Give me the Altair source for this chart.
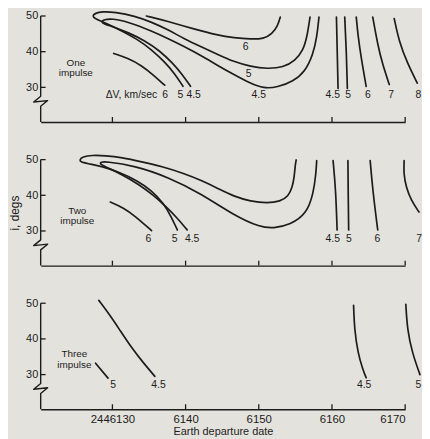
import altair as alt
import pandas as pd

FONT = "Liberation Sans"
INK = "#1c1c1c"
BG = "#e4e2dd"

# ---- axes -------------------------------------------------------------
X_MIN, X_MAX = 6120.2, 6170
Y_MIN, Y_MAX = 20.3, 50
W, H = 368, 107

x_ticks = [6130, 6140, 6150, 6160, 6170]
x_tick_labels = ["2446130", "6140", "6150", "6160", "6170"]
y_ticks = [30, 40, 50]

# y-axis line with its break (zig-zag)
axis_dates = [6120.2, 6120.2, 6119.25, 6121.15, 6120.2, 6120.2]
axis_degs = [50, 27.5, 25.9, 26.3, 24.7, 20.3]

# ---- panel 1: one impulse ---------------------------------------------
p1_a6_date = [6130.17, 6132.20, 6134.00, 6135.58, 6137.15]
p1_a6_deg = [39.5, 38.1, 36.1, 33.5, 30.6]
p1_b6_date = [6134.64, 6137.61, 6141.21, 6144.38, 6146.62, 6148.88, 6150.68, 6151.82, 6152.58, 6152.94]
p1_b6_deg = [50.0, 48.5, 46.3, 44.6, 43.9, 43.5, 43.6, 45.0, 47.2, 49.7]
p1_c5_date = [6139.64, 6138.51, 6137.11, 6135.35, 6133.32, 6131.02, 6128.99, 6127.64, 6127.24, 6127.64,
              6128.59, 6130.35, 6133.05, 6135.35, 6137.65, 6139.82, 6142.12, 6144.42, 6146.58, 6148.88,
              6151.18, 6153.35, 6154.97, 6156.05, 6156.60, 6157.00]
p1_c5_deg = [30.3, 33.9, 37.2, 40.6, 43.6, 46.1, 48.1, 49.2, 50.0, 50.8,
             51.25, 51.1, 50.0, 48.3, 46.1, 43.6, 41.4, 39.2, 37.2, 35.8,
             35.2, 35.6, 37.5, 40.3, 44.2, 49.7]
p1_d45_date = [6140.67, 6139.55, 6138.19, 6136.44, 6134.41, 6132.24, 6130.21, 6128.86, 6128.45, 6128.86,
               6129.94, 6132.24, 6135.35, 6137.65, 6139.82, 6142.12, 6144.42, 6146.58, 6148.88, 6150.64,
               6152.54, 6154.70, 6156.32, 6157.41, 6157.95, 6158.22]
p1_d45_deg = [30.3, 33.6, 36.9, 40.3, 43.1, 45.3, 46.9, 47.8, 48.3, 49.0,
              49.3, 48.3, 45.8, 43.6, 41.4, 38.9, 36.1, 33.6, 31.1, 29.7,
              30.0, 31.7, 34.4, 39.2, 44.2, 49.7]
p1_r45_date = [6160.61, 6160.72, 6160.83]
p1_r45_deg = [49.7, 40.0, 29.7]
p1_r5_date = [6161.74, 6161.97, 6162.10]
p1_r5_deg = [49.7, 40.0, 29.7]
p1_r6_date = [6163.32, 6163.55, 6164.00, 6164.67]
p1_r6_deg = [49.7, 44.6, 38.1, 30.3]
p1_r7_date = [6165.57, 6166.25, 6166.92, 6167.83]
p1_r7_deg = [49.7, 41.9, 36.4, 30.8]
p1_r8_date = [6168.50, 6169.18, 6170.30, 6171.66]
p1_r8_deg = [49.3, 42.8, 36.8, 31.2]

p1_lab_text = ["ΔV, km/sec", "6", "5", "4.5", "4.5", "4.5", "5", "6", "7", "8", "5", "6"]
p1_lab_date = [6132.6, 6137.2, 6139.3, 6141.1, 6150.0, 6160.1, 6162.2, 6164.9, 6168.1, 6171.8, 6148.6, 6148.2]
p1_lab_deg = [27.8, 27.8, 27.8, 27.8, 27.8, 27.8, 27.8, 27.8, 27.8, 27.8, 33.6, 41.4]
p1_note_text = ["One", "impulse"]
p1_note_date = [6125.0, 6125.0]
p1_note_deg = [36.7, 33.9]

# ---- panel 2: two impulse ---------------------------------------------
p2_a6_date = [6129.71, 6131.52, 6133.09, 6135.35]
p2_a6_deg = [38.1, 36.5, 34.2, 30.1]
p2_c5_date = [6138.87, 6138.06, 6136.98, 6135.35, 6133.32, 6131.02, 6128.59, 6126.56, 6125.61, 6125.52,
              6125.88, 6127.24, 6128.99, 6131.29, 6134.00, 6136.71, 6139.82, 6142.12, 6144.42, 6146.58,
              6148.88, 6151.18, 6152.94, 6154.03, 6154.57, 6154.84, 6154.97, 6155.11]
p2_c5_deg = [30.3, 33.9, 37.8, 41.4, 44.2, 46.4, 48.1, 48.9, 49.4, 49.9,
             50.8, 51.25, 51.1, 50.6, 49.4, 48.1, 46.1, 44.2, 41.9, 39.7,
             38.3, 37.8, 38.3, 39.7, 42.2, 45.0, 48.3, 49.9]
p2_d45_date = [6140.22, 6138.87, 6137.38, 6135.62, 6133.59, 6131.29, 6129.27, 6128.22, 6128.45, 6128.99,
               6133.05, 6137.61, 6142.12, 6146.58, 6150.24, 6152.00, 6154.30, 6156.56, 6157.45, 6157.81,
               6157.91]
p2_d45_deg = [30.3, 33.6, 36.7, 40.0, 43.1, 45.8, 47.8, 48.8, 49.3, 49.5,
              48.3, 45.1, 40.5, 34.4, 31.0, 30.75, 31.7, 34.9, 40.5, 46.0,
              49.7]
p2_r45_date = [6160.15, 6160.52, 6160.70]
p2_r45_deg = [49.7, 41.4, 30.3]
p2_r5_date = [6162.18, 6162.22, 6162.28]
p2_r5_deg = [49.7, 40.0, 30.3]
p2_r6_date = [6165.22, 6165.57, 6166.25]
p2_r6_deg = [49.7, 41.4, 30.3]
p2_r7_date = [6169.86, 6169.79, 6170.14, 6170.82, 6171.89]
p2_r7_deg = [49.7, 46.1, 42.2, 38.6, 35.3]

p2_lab_text = ["6", "5", "4.5", "4.5", "5", "6", "7"]
p2_lab_date = [6134.9, 6138.5, 6140.9, 6160.1, 6162.3, 6166.2, 6171.9]
p2_lab_deg = [27.7, 27.7, 27.7, 27.7, 27.7, 27.7, 27.7]
p2_note_text = ["Two", "impulse"]
p2_note_date = [6125.2, 6125.2]
p2_note_deg = [35.6, 32.8]

# ---- panel 3: three impulse -------------------------------------------
p3_l45_date = [6128.14, 6129.50, 6130.85, 6132.65, 6134.23, 6135.80]
p3_l45_deg = [50.8, 47.1, 43.0, 37.4, 33.3, 29.5]
p3_l5_date = [6127.7, 6129.4]
p3_l5_deg = [33.2, 29.0]
p3_r45_date = [6162.95, 6163.08, 6163.55, 6164.22, 6164.67]
p3_r45_deg = [49.4, 42.5, 36.0, 31.4, 29.1]
p3_r5_date = [6170.09, 6170.30, 6170.98, 6172.02]
p3_r5_deg = [49.7, 42.5, 36.0, 30.0]

p3_lab_text = ["5", "4.5", "4.5", "5"]
p3_lab_date = [6130.1, 6136.3, 6164.4, 6171.8]
p3_lab_deg = [27.2, 27.2, 27.2, 27.2]
p3_note_text = ["Three", "impulse"]
p3_note_date = [6124.8, 6124.8]
p3_note_deg = [35.7, 32.8]


# ---- helpers ------------------------------------------------------------
def curve_frame(curves):
    rows = []
    for name, dates, degs in curves:
        for i, (d, g) in enumerate(zip(dates, degs)):
            rows.append({"curve": name, "i": i, "date": d, "deg": g})
    return pd.DataFrame(rows)


label_expr = " : ".join(
    f"datum.value == {v} ? '{t}'" for v, t in zip(x_ticks, x_tick_labels)
) + " : ''"

xscale = alt.Scale(domain=[X_MIN, X_MAX], nice=False, zero=False)
yscale = alt.Scale(domain=[Y_MIN, Y_MAX], nice=False, zero=False)


def panel(curves, lab_text, lab_date, lab_deg, note_text, note_date, note_deg,
          bottom=False, ytitle=None):
    if bottom:
        xaxis = alt.Axis(values=x_ticks, labelExpr=label_expr, ticks=False, grid=False,
                         domain=True, labelFontSize=11.5, labelPadding=4.5,
                         title="Earth departure date", titleFontSize=11, titlePadding=0.5)
    else:
        xaxis = alt.Axis(values=x_ticks, labels=False, ticks=False, grid=False,
                         domain=True, title=None)
    ykw = dict(values=y_ticks, ticks=False, grid=False, domain=False,
               labelFontSize=11, labelPadding=3)
    if ytitle:
        ykw.update(title=ytitle, titleFontSize=12, titlePadding=4)
    else:
        ykw.update(title=None)
    yaxis = alt.Axis(**ykw)

    X = alt.X("date:Q", scale=xscale, axis=xaxis)
    Y = alt.Y("deg:Q", scale=yscale, axis=yaxis)

    lines = alt.Chart(curve_frame(curves)).mark_line(
        interpolate="basis", color=INK, strokeWidth=1.7, strokeCap="round", strokeJoin="round"
    ).encode(x=X, y=Y, detail="curve:N", order="i:Q")

    axis_df = pd.DataFrame({"date": axis_dates, "deg": axis_degs,
                            "i": list(range(len(axis_dates)))})
    yline = alt.Chart(axis_df).mark_line(color=INK, strokeWidth=1.4, strokeJoin="round").encode(
        x=X, y=Y, order="i:Q")

    xt = alt.Chart(pd.DataFrame({"date": x_ticks})).mark_rule(
        color=INK, strokeWidth=1.3).encode(x=X, y=alt.value(H), y2=alt.value(H - 5))
    yt = alt.Chart(pd.DataFrame({"deg": y_ticks})).mark_rule(
        color=INK, strokeWidth=1.3).encode(y=Y, x=alt.value(0), x2=alt.value(5))

    labels = alt.Chart(pd.DataFrame({"t": lab_text, "date": lab_date, "deg": lab_deg})).mark_text(
        font=FONT, fontSize=10.5, color=INK, align="center", baseline="middle"
    ).encode(x=X, y=Y, text="t:N")

    notes = alt.Chart(pd.DataFrame({"t": note_text, "date": note_date, "deg": note_deg})).mark_text(
        font=FONT, fontSize=10, color=INK, align="center", baseline="middle"
    ).encode(x=X, y=Y, text="t:N")

    return alt.layer(yline, xt, yt, lines, labels, notes).properties(width=W, height=H)


p1 = panel([("a6", p1_a6_date, p1_a6_deg), ("b6", p1_b6_date, p1_b6_deg),
            ("c5", p1_c5_date, p1_c5_deg), ("d45", p1_d45_date, p1_d45_deg),
            ("r45", p1_r45_date, p1_r45_deg), ("r5", p1_r5_date, p1_r5_deg),
            ("r6", p1_r6_date, p1_r6_deg), ("r7", p1_r7_date, p1_r7_deg),
            ("r8", p1_r8_date, p1_r8_deg)],
           p1_lab_text, p1_lab_date, p1_lab_deg, p1_note_text, p1_note_date, p1_note_deg)

p2 = panel([("a6", p2_a6_date, p2_a6_deg), ("c5", p2_c5_date, p2_c5_deg),
            ("d45", p2_d45_date, p2_d45_deg), ("r45", p2_r45_date, p2_r45_deg),
            ("r5", p2_r5_date, p2_r5_deg), ("r6", p2_r6_date, p2_r6_deg),
            ("r7", p2_r7_date, p2_r7_deg)],
           p2_lab_text, p2_lab_date, p2_lab_deg, p2_note_text, p2_note_date, p2_note_deg,
           ytitle="i, degs")

p3 = panel([("l45", p3_l45_date, p3_l45_deg), ("l5", p3_l5_date, p3_l5_deg),
            ("r45", p3_r45_date, p3_r45_deg), ("r5", p3_r5_date, p3_r5_deg)],
           p3_lab_text, p3_lab_date, p3_lab_deg, p3_note_text, p3_note_date, p3_note_deg,
           bottom=True)

chart = alt.vconcat(p1, p2, p3, spacing=38, bounds="flush").properties(
    padding={"left": 0, "top": 0, "right": 0, "bottom": 0}
).configure(background=BG).configure_view(stroke=None).configure_axis(
    labelFont=FONT, titleFont=FONT, labelColor=INK, titleColor=INK,
    domainColor=INK, domainWidth=1.4, titleFontWeight="normal"
)

chart.save("out.html", embed_options={"renderer": "svg", "actions": False})
